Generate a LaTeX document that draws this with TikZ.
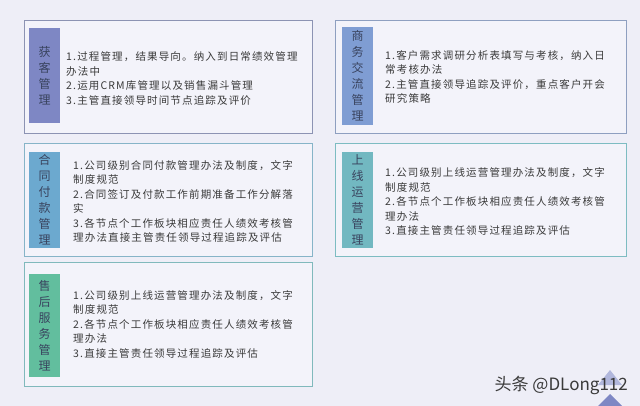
\documentclass[tikz,border=0pt]{standalone}
\usepackage{fontspec}
\setmainfont{Noto Sans CJK SC}
\newfontfamily\cjk[LetterSpace=11]{Noto Sans CJK SC}
\usetikzlibrary{positioning}

\definecolor{pagebg}{HTML}{EEEEF7}
\definecolor{panelbg}{HTML}{F3F3FA}
\definecolor{edgeA}{HTML}{8C93B3}
\definecolor{edgeB}{HTML}{8E9FC0}
\definecolor{edgeC}{HTML}{86B4C8}
\definecolor{edgeD}{HTML}{7DBCC2}
\definecolor{edgeE}{HTML}{80B9BC}
\definecolor{barA}{HTML}{7E87C4}
\definecolor{barB}{HTML}{7F9DD3}
\definecolor{barC}{HTML}{6CA9CF}
\definecolor{barD}{HTML}{72B8C1}
\definecolor{barE}{HTML}{62BE9E}
\definecolor{inktext}{HTML}{3A3A3A}
\definecolor{inklabel}{HTML}{39435E}

\tikzset{
  panel/.style = {draw, line width=1.4pt, fill=panelbg, anchor=north west, inner sep=0pt},
  barbox/.style = {minimum width=31, anchor=north west, inner sep=0pt, align=center,
                   text=inklabel, font=\cjk\fontsize{12}{16}\selectfont},
  itemtext/.style = {anchor=west, inner sep=0pt, align=left, text=inktext,
                     font=\cjk\fontsize{10.5}{14.5}\selectfont}
}

\begin{document}
\begin{tikzpicture}[x=1pt, y=-1pt]
\fill[pagebg] (0,0) rectangle (640,406);
\useasboundingbox (0,0) rectangle (640,406);

% left column
\node[panel, draw=edgeA, minimum width=288, minimum height=113] (hkpanel) at (24,20) {};
\node[barbox, fill=barA, minimum height=95] (hkbar) at (29,28) {获\\客\\管\\理};
\node[itemtext] (hktext) at (66,78.5) {1.过程管理，结果导向。纳入到日常绩效管理\\办法中\\2.运用CRM库管理以及销售漏斗管理\\3.主管直接领导时间节点追踪及评价};

\node[panel, draw=edgeC, minimum width=288, minimum height=113] (htpanel) at (24,143) {};
\node[barbox, fill=barC, minimum height=96] (htbar) at (29,152) {合\\同\\付\\款\\管\\理};
\node[itemtext] (httext) at (73,201.5) {1.公司级别合同付款管理办法及制度，文字\\制度规范\\2.合同签订及付款工作前期准备工作分解落\\实\\3.各节点个工作板块相应责任人绩效考核管\\理办法直接主管责任领导过程追踪及评估};

\node[panel, draw=edgeE, minimum width=288, minimum height=124] (shpanel) at (24,262) {};
\node[barbox, fill=barE, minimum height=103] (shbar) at (29,274) {售\\后\\服\\务\\管\\理};
\node[itemtext] (shtext) at (73,324) {1.公司级别上线运营管理办法及制度，文字\\制度规范\\2.各节点个工作板块相应责任人绩效考核管\\理办法\\3.直接主管责任领导过程追踪及评估};

% right column
\node[panel, draw=edgeB, minimum width=291, minimum height=113] (swpanel) at (335,20) {};
\node[barbox, fill=barB, minimum height=98] (swbar) at (342,27) {商\\务\\交\\流\\管\\理};
\node[itemtext] (swtext) at (385,77) {1.客户需求调研分析表填写与考核，纳入日\\常考核办法\\2.主管直接领导追踪及评价，重点客户开会\\研究策略};

\node[panel, draw=edgeD, minimum width=291, minimum height=113] (sxpanel) at (335,143) {};
\node[barbox, fill=barD, minimum height=96] (sxbar) at (342,152) {上\\线\\运\\营\\管\\理};
\node[itemtext] (sxtext) at (385,201.5) {1.公司级别上线运营管理办法及制度，文字\\制度规范\\2.各节点个工作板块相应责任人绩效考核管\\理办法\\3.直接主管责任领导过程追踪及评估};

% watermark
\fill[barA!60] (598,385) -- (610,370) -- (622,385) -- cycle;
\fill[barA] (598,406) -- (610,394) -- (622,406) -- cycle;
\node[anchor=east, inner sep=0pt, text=inktext, font=\fontsize{17}{20}\selectfont] (mark) at (628,385) {头条 @DLong112};
\end{tikzpicture}
\end{document}
